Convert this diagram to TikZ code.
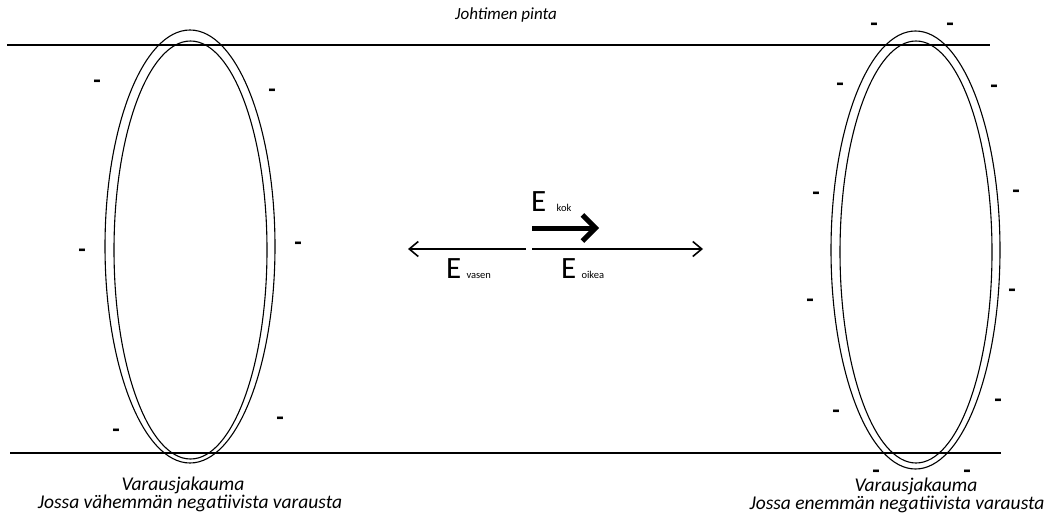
\documentclass[tikz,border=0pt]{standalone}
\usepackage{fontspec}
\setmainfont{Carlito}
\usetikzlibrary{arrows.meta}
\tikzset{
  tube/.style={line width=2pt},
  ring/.style={line width=1.1pt},
  field/.style={line width=1.6pt, -{Straight Barb[length=9pt,width=15pt]}},
  total/.style={line width=5pt, -{Straight Barb[length=13pt,width=26pt]}},
  toplabel/.style={font=\fontsize{17}{20}\selectfont\itshape, inner sep=0pt},
  caption/.style={font=\fontsize{19.5}{22}\selectfont\itshape, inner sep=0pt},
  neg/.style={font=\fontsize{17}{20}\selectfont\bfseries, inner sep=0pt,
    text height=1.2pt, text depth=1.2pt},
  elabel/.style={font=\fontsize{31}{34}\selectfont, inner sep=0pt, anchor=base west},
}
\newcommand{\subtxt}[1]{{\fontsize{10.5}{12}\selectfont #1}}
% a tall en dash, lowered so that its bar sits on the baseline
\newcommand{\negsign}{\raisebox{-9.5pt}{\scalebox{1}[1.7]{–}}}
\begin{document}
\begin{tikzpicture}[x=1pt,y=-1pt]
\useasboundingbox (0,0) rectangle (1048,514);

% conductor surface
\coordinate (tl) at (7,44.5);   \coordinate (tr) at (990,44.5);
\coordinate (bl) at (10,453);   \coordinate (br) at (1001,453);
\draw[tube] (tl) -- (tr);
\draw[tube] (bl) -- (br);
\node[toplabel, anchor=base] (surf) at (506,19) {Johtimen pinta};

% left charge ring
\draw[ring] (190,246.5) ellipse [x radius=85, y radius=216.5];
\draw[ring] (190.5,250) ellipse [x radius=76.5, y radius=209];
% right charge ring
\draw[ring] (915.5,250) ellipse [x radius=84.5, y radius=219];
\draw[ring] (916,252) ellipse [x radius=76, y radius=211];

% negative charges
\foreach \px/\py [count=\i] in {97/80, 272/89, 82/249, 298/242, 116/429, 280/417,
    874/23, 950/23, 840/83, 994/85, 816/192, 1016/190, 810/299, 1012/289,
    836/410, 998/399, 876/470, 967/470}
  \node[neg] (neg\i) at (\px,\py) {\negsign};

% fields
\coordinate (lstart) at (526,249); \coordinate (lend) at (408,249);
\coordinate (rstart) at (532,249); \coordinate (rend) at (703,249);
\coordinate (kstart) at (532,228); \coordinate (kend) at (599,228);
\draw[field] (lstart) -- (lend);
\draw[field] (rstart) -- (rend);
\draw[total] (kstart) -- (kend);
\node[elabel] (ev) at (446,278) {E\,\subtxt{vasen}};
\node[elabel] (eo) at (561,278) {E\,\subtxt{oikea}};
\node[elabel] (ek) at (531,211) {E\,\,\subtxt{kok}};

% captions
\node[caption, anchor=base] (capl1) at (183,490) {Varausjakauma};
\node[caption, anchor=base] (capl2) at (190,508) {Jossa vähemmän negatiivista varausta};
\node[caption, anchor=base] (capr1) at (916,491) {Varausjakauma};
\node[caption, anchor=base] (capr2) at (897,509) {Jossa enemmän negatiivista varausta};
\end{tikzpicture}
\end{document}
